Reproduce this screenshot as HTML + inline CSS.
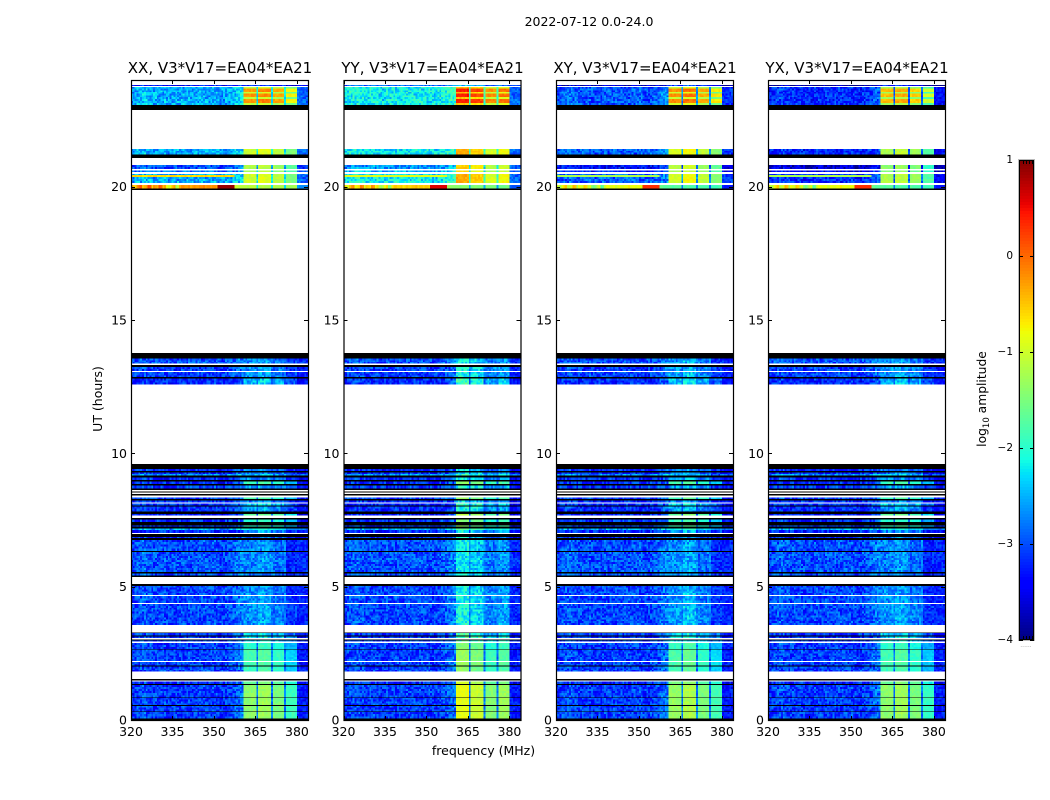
<!DOCTYPE html>
<html lang="en">
<head>
<meta charset="utf-8">
<title>2022-07-12 spectrograms</title>
<style>
  html, body { margin: 0; padding: 0; background: #fff; }
  svg { display: block; }
  text { font-family: "DejaVu Sans", "Liberation Sans", sans-serif; fill: #000; }
</style>
</head>
<body>
<svg id="figure" xmlns="http://www.w3.org/2000/svg" width="1050" height="800" viewBox="0 0 1050 800">
  <rect x="0" y="0" width="1050" height="800" fill="#fff"/>
  <text x="589" y="26" font-size="12.5" text-anchor="middle">2022-07-12 0.0-24.0</text>
  <text x="0" y="0" font-size="12.5" text-anchor="middle" transform="translate(102,399) rotate(-90)">UT (hours)</text>
  <text x="483.5" y="755" font-size="12.5" text-anchor="middle">frequency (MHz)</text>
  <text x="0" y="0" font-size="12.3" text-anchor="middle" transform="translate(986,399) rotate(-90)">log<tspan font-size="8.5" dy="3">10</tspan><tspan dy="-3"> amplitude</tspan></text>
  <g id="panels"></g>
  <g id="colorbar"></g>
</svg>
<script>
// ---- chart data ----
var panelNames = ['XX', 'YY', 'XY', 'YX'];
var baselineLabel = 'V3*V17=EA04*EA21';
var frequencyTicks = [320, 335, 350, 365, 380];
var hourTicks = [0, 5, 10, 15, 20];
var colorTicks = [1, 0, -1, -2, -3, -4];

// Each time band ends at bandEnd[i] hours. K = fully flagged (black), W = no data (white).
var K = -9, W = null;
var bandEnd = [
  0.05,0.30,0.32,0.53,0.56,0.83,0.85,1.31,1.35,1.44,1.49,1.54,1.81,2.00,2.04,2.17,2.21,2.64,2.67,2.89,
  2.94,2.98,3.02,3.07,3.13,3.17,3.26,3.29,3.56,4.35,4.39,4.65,4.69,5.03,5.10,5.37,5.41,5.50,5.55,6.30,
  6.34,6.75,6.83,6.87,6.98,7.02,7.12,7.18,7.25,7.29,7.43,7.51,7.57,7.67,7.73,7.81,7.86,8.00,8.04,8.11,
  8.16,8.23,8.28,8.35,8.41,8.48,8.53,8.57,8.63,8.68,8.79,8.85,8.94,9.00,9.10,9.17,9.22,9.29,9.34,9.41,
  9.60,12.59,12.80,12.86,13.05,13.09,13.24,13.31,13.36,13.55,13.76,19.88,19.93,20.06,20.14,20.36,20.44,20.48,20.55,20.61,
  20.66,20.81,21.08,21.21,21.41,22.88,23.06,23.14,23.29,23.36,23.49,23.55,23.68,23.74,23.78,23.81,24.00
];
var bandLow = [
  K,-3.1,K,-3.1,K,-3.1,K,-3.1,K,-3.2,W,K,W,-3.1,K,-3.1,W,-3.1,K,-3.1,
  W,-3.1,K,W,-3.2,K,-3.1,K,W,-3.05,W,-3.05,W,-3.05,K,W,K,-3.0,K,-3.0,
  K,-3.0,K,-3.2,K,W,-3.2,-2.6,K,-3.1,K,-3.2,K,W,-3.3,K,-3.2,-3.2,K,-3.2,
  W,-3.2,K,-3.1,W,K,W,K,W,K,-3.1,K,-3.2,K,-3.2,K,-2.7,-3.2,K,-3.2,
  K,W,-3.2,K,-3.1,W,-3.1,K,W,-3.0,K,W,K,-0.4,W,-2.55,-2.55,-2.55,W,-2.85,
  W,-3.0,W,K,-2.55,W,K,-2.55,-2.55,-2.55,-2.55,-2.55,-2.55,-2.55,W,-3.3,W
];
var bandHigh = [
  K,-1.4,K,-1.4,K,-1.4,K,-1.4,K,-1.6,W,K,W,-1.9,K,-1.85,W,-1.85,K,-2.0,
  W,-2.3,K,W,-2.3,K,-2.4,K,W,-2.65,W,-2.7,W,-2.7,K,W,K,-2.8,K,-2.75,
  K,-2.75,K,-2.8,K,W,-2.7,-2.2,K,-1.9,K,-2.0,K,W,-1.7,K,-2.7,-2.6,K,-2.4,
  W,-2.8,K,-1.9,W,K,W,K,W,K,-2.6,K,-1.9,K,-2.7,K,-2.5,-2.8,K,-2.8,
  K,W,-2.45,K,-2.65,W,-2.65,K,W,-2.7,K,W,K,-1.1,W,-0.9,-0.9,-0.9,W,-1.2,
  W,-1.1,W,K,-0.9,W,K,-1.0,-0.15,-1.0,-0.15,-1.0,-0.15,-1.0,W,-3.0,W
];

// Channel classes for 96 channels of 2/3 MHz: 0 quiet, 1-4 sub-bands, 5 sub-band gap, 6 upper edge
var channelClass = [
  0,0,0,0,0,0,0,0,0,0,0,0,0,0,0,0,0,0,0,0,0,0,0,0,
  0,0,0,0,0,0,0,0,0,0,0,0,0,0,0,0,0,0,0,0,0,0,0,0,
  0,0,0,0,0,0,0,0,0,0,0,0,0,1,1,1,1,1,1,1,5,2,2,2,
  2,2,2,2,5,3,3,3,3,3,3,5,4,4,4,4,4,4,6,6,6,6,6,6
];
var channelTilt = [
  -0.1,-0.05,0,0.05,0.05,0.05,0.1,0.1,0.1,0.05,0.05,0.05,0,0,0,0,0,0,0,-0.05,-0.05,-0.05,0,0,
  0,0,0,0,0,0,0,0,0,0,0,0,0,0,0,0,0,0,0,0,0.05,0.05,0.05,0,
  -0.05,-0.05,-0.05,0,0,0.05,0.1,0.1,0.15,0.2,0.2,0.25,0.25,0,0,0,0,0,0,0,0,0,0,0,
  0,0,0,0,0,0,0,0,0,0,0,0,0,0,0,0,0,0,0,0,0,0,0,0
];
// Low-channel shift of each polarisation after 20 UT, and sub-band shifts per polarisation
var lateLowShift = [0, 0.35, -0.4, -0.65];
var lateHighShift = [-0.1, 0, -0.1, -0.3];
var subbandShift = [
  [0, 0.1, -0.1, -0.5],
  [0.55, 0.35, -0.05, 0.1],
  [0.05, 0.2, -0.1, -0.45],
  [0, 0.1, -0.1, -0.55]
];
// The interference row just above 20 UT, by channel
var hotSpectrum = [
  -0.3,-0.5,-0.6,-0.2,0.0,0.1,-0.5,-0.4,-0.3,0.2,0.1,-0.6,-0.2,-0.3,-0.4,0.1,0.0,-0.5,-0.3,-0.8,-1.0,-0.8,-0.5,-0.3,
  -1.2,-1.0,-0.4,-0.2,-0.2,-0.3,-0.3,-0.2,-0.4,-0.3,-0.2,-0.3,-0.3,-0.2,-0.2,-0.1,-0.3,-0.2,-0.2,-0.3,-0.2,-0.2,-0.3,0.9,
  0.9,0.9,0.9,0.9,0.9,0.9,0.9,0.9,-1.0,-1.0,-1.1,-1.1,-1.1,-1.1,-1.1,-1.2,-1.1,-1.1,-1.1,-1.1,-2.2,-1.2,-1.2,-1.1,
  -1.2,-1.2,-1.2,-1.2,-2.2,-1.1,-1.2,-1.2,-1.2,-1.2,-1.2,-2.3,-1.3,-1.3,-1.3,-1.3,-1.2,-1.2,-2.6,-2.7,-2.7,-2.7,-2.7,-2.7
];
var hotPanelShift = [0, -0.3, -0.6, -0.6];
var hotBandEnd = 20.06;
var stripeBandEnd = 20.44;
var stripeLevel = -0.6;
var stripeLastChannel = 55;
// Speckle offsets read by eye from the noisy regions
var speckle = [
  0.22,-0.31,0.08,-0.12,0.35,-0.26,0.03,0.18,-0.38,0.14,-0.05,0.29,-0.17,0.41,-0.33,0.06,-0.21,0.25,-0.09,0.12,
  -0.28,0.37,-0.02,-0.15,0.19,-0.42,0.31,0.04,-0.24,0.16,-0.07,0.27,-0.36,0.1,0.33,-0.19,-0.01,0.23,-0.29,0.15,
  -0.11,0.39,-0.34,0.07,-0.22,0.2,-0.04,0.3,-0.27,0.11,-0.16,0.02,0.26
];

// ---- layout ----
var svgNS = 'http://www.w3.org/2000/svg';
var panelLefts = [131, 343.5, 556, 768];
var plotWidth = 177, plotTop = 80, plotBottom = 720;
var freqMin = 320, freqMax = 384, hourMax = 24;
var rowStep = 0.075;
var barLeft = 1019, barRight = 1034, barTop = 160, barBottom = 640;
var colorMin = -4, colorMax = 1;

function xScale(panel, f) { return panelLefts[panel] + (f - freqMin) * plotWidth / (freqMax - freqMin); }
function yScale(h) { return plotBottom - h * (plotBottom - plotTop) / hourMax; }
function colorY(v) { return barBottom - (v - colorMin) * (barBottom - barTop) / (colorMax - colorMin); }

function jet(v) {
  var p = Math.max(0, Math.min(1, (v - colorMin) / (colorMax - colorMin)));
  function ramp(points) {
    for (var i = 1; i < points.length; i++) {
      if (p <= points[i][0]) {
        var a = points[i - 1], b = points[i];
        return a[1] + (b[1] - a[1]) * (p - a[0]) / (b[0] - a[0]);
      }
    }
    return points[points.length - 1][1];
  }
  var r = ramp([[0, 0], [0.35, 0], [0.66, 1], [0.89, 1], [1, 0.5]]);
  var g = ramp([[0, 0], [0.125, 0], [0.375, 1], [0.64, 1], [0.91, 0], [1, 0]]);
  var b = ramp([[0, 0.5], [0.11, 1], [0.34, 1], [0.65, 0], [1, 0]]);
  return 'rgb(' + Math.round(r * 255) + ',' + Math.round(g * 255) + ',' + Math.round(b * 255) + ')';
}

function make(tag, attrs, parent) {
  var el = document.createElementNS(svgNS, tag);
  for (var k in attrs) { el.setAttribute(k, attrs[k]); }
  parent.appendChild(el);
  return el;
}

function cellValue(panel, c, end, low, high, row) {
  var cls = channelClass[c];
  var late = end > 14;
  var base = low + (late ? lateLowShift[panel] : 0);
  var grain = speckle[(row * row * 7 + row * c * 3 + c * c * c * 5 + c * 19) % speckle.length];
  if (end === hotBandEnd) { return hotSpectrum[c] + hotPanelShift[panel]; }
  if (end === stripeBandEnd && c <= stripeLastChannel) { return stripeLevel + hotPanelShift[panel] + grain * 0.3; }
  if (cls === 0) { return base + channelTilt[c] + grain; }
  if (cls === 5) { return base + 0.3 + grain * 0.6; }
  if (cls === 6) { return Math.min(base - 0.2, -2.9) + grain * 0.7; }
  var spread = high < -2.2 ? 0.9 : 0.3;
  return high + subbandShift[panel][cls - 1] + (late ? lateHighShift[panel] : 0) + grain * spread;
}

function drawPanel(panel, root) {
  var left = panelLefts[panel];
  var g = make('g', {}, root);
  
  

  var heat = make('g', { 'shape-rendering': 'crispEdges' }, g);
  
  

  var rowCounter = 0;
  for (var i = 0; i < bandEnd.length; i++) {
    var start = i === 0 ? 0 : bandEnd[i - 1];
    var end = bandEnd[i];
    var low = bandLow[i], high = bandHigh[i];
    if (low === W) { continue; }
    if (low === K) {
      var flag = make('rect', { x: left, y: yScale(end), width: plotWidth, height: yScale(start) - yScale(end), fill: '#000' }, heat);
      
      
      continue;
    }
    var rows = Math.max(1, Math.round((end - start) / rowStep));
    for (var r = 0; r < rows; r++) {
      var h0 = start + (end - start) * r / rows;
      var h1 = start + (end - start) * (r + 1) / rows;
      rowCounter++;
      for (var c = 0; c < channelClass.length; c++) {
        var step = (freqMax - freqMin) / channelClass.length;
        var x0 = xScale(panel, freqMin + c * step), x1 = xScale(panel, freqMin + (c + 1) * step);
        var v = cellValue(panel, c, end, low, high, rowCounter + panel * 11);
        var cell = make('rect', { x: x0, y: yScale(h1), width: x1 - x0, height: yScale(h0) - yScale(h1), fill: jet(v) }, heat);
        
        
      }
    }
  }

  var frame = make('rect', { x: left + 0.5, y: plotTop + 0.5, width: plotWidth, height: plotBottom - plotTop, fill: 'none', stroke: '#000', 'stroke-width': 1.2 }, g);
  
  

  frequencyTicks.forEach(function (f) {
    var x = Math.round(xScale(panel, f)) + 0.5;
    var tb = make('line', { x1: x, x2: x, y1: plotBottom, y2: plotBottom - 4, stroke: '#000', 'stroke-width': 1 }, g);
    
    
    var tt = make('line', { x1: x, x2: x, y1: plotTop, y2: plotTop + 4, stroke: '#000', 'stroke-width': 1 }, g);
    
    
    var lb = make('text', { x: xScale(panel, f), y: 736, 'font-size': 12.5, 'text-anchor': 'middle' }, g);
    lb.textContent = String(f);
    
    
  });

  hourTicks.forEach(function (h) {
    var y = Math.round(yScale(h)) + 0.5;
    var tl = make('line', { x1: left, x2: left + 4, y1: y, y2: y, stroke: '#000', 'stroke-width': 1 }, g);
    
    
    var tr = make('line', { x1: left + plotWidth - 4, x2: left + plotWidth, y1: y, y2: y, stroke: '#000', 'stroke-width': 1 }, g);
    
    
    var lb = make('text', { x: left - 4, y: yScale(h) + 4.5, 'font-size': 12.5, 'text-anchor': 'end' }, g);
    lb.textContent = String(h);
    
    
  });

  var title = make('text', { x: left + plotWidth / 2 + 0.5, y: 73, 'font-size': 15, 'text-anchor': 'middle' }, g);
  title.textContent = panelNames[panel] + ', ' + baselineLabel;
  
  
}

function drawColorbar(root) {
  var ramp = make('g', { 'shape-rendering': 'crispEdges' }, root);
  
  
  var steps = 160;
  for (var i = 0; i < steps; i++) {
    var v0 = colorMin + (colorMax - colorMin) * i / steps;
    var v1 = colorMin + (colorMax - colorMin) * (i + 1) / steps;
    var s = make('rect', { x: barLeft, y: colorY(v1), width: barRight - barLeft, height: colorY(v0) - colorY(v1), fill: jet((v0 + v1) / 2) }, ramp);
    
    
  }
  var halo = make('rect', { x: barLeft - 0.5, y: barTop - 0.5, width: barRight - barLeft + 1, height: barBottom - barTop + 1, fill: 'none', stroke: '#bbb', 'stroke-width': 1 }, root);
  
  
  var frame = make('rect', { x: barLeft + 0.5, y: barTop + 0.5, width: barRight - barLeft - 1, height: barBottom - barTop - 1, fill: 'none', stroke: '#000', 'stroke-width': 1 }, root);
  
  

  colorTicks.forEach(function (v) {
    var y = Math.round(colorY(v)) + 0.5;
    var a = make('line', { x1: barLeft, x2: barLeft + 4, y1: y, y2: y, stroke: '#000' }, root);
    
    
    var b = make('line', { x1: barRight - 4, x2: barRight, y1: y, y2: y, stroke: '#000' }, root);
    
    
    var t = make('text', { x: 1013, y: colorY(v) + 3, 'font-size': 10.5, 'text-anchor': 'end' }, root);
    t.textContent = v < 0 ? '\u2212' + Math.abs(v) : String(v);
    
    
  });

  [1023, 1026, 1029, 1032].forEach(function (x) {
    var top = make('line', { x1: x + 0.5, x2: x + 0.5, y1: barTop, y2: barTop + 4, stroke: '#000' }, root);
    
    
    var bottom = make('line', { x1: x + 0.5, x2: x + 0.5, y1: barBottom - 4, y2: barBottom, stroke: '#000' }, root);
    
    
  });

  var dots = make('text', { x: 1026, y: 647, 'font-size': 6, 'text-anchor': 'middle', style: 'fill:#999' }, root);
  dots.textContent = '......';
  
  
}

var panelsRoot = document.getElementById('panels');
for (var p = 0; p < panelNames.length; p++) { drawPanel(p, panelsRoot); }
drawColorbar(document.getElementById('colorbar'));
</script>
</body>
</html>
